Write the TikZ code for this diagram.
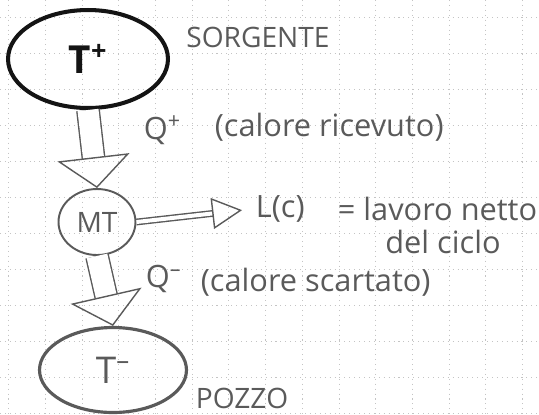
\documentclass[tikz,border=0pt]{standalone}
\usepackage{fontspec}
\setmainfont{Open Sans}
\usepackage{tikz}
\usetikzlibrary{arrows.meta,positioning,shapes.geometric}
\definecolor{PencilDark}{HTML}{141414}
\definecolor{PencilGray}{HTML}{5A5A5A}
\definecolor{PaperGrid}{HTML}{C4C4C4}
\tikzset{
  reservoir/.style={ellipse,draw=PencilDark,line width=2.3pt,inner sep=0pt,
    text=PencilDark,font=\fontsize{22}{24}\selectfont\bfseries},
  sinkres/.style={reservoir,draw=PencilGray,line width=1.8pt,text=PencilGray,
    font=\fontsize{21}{24}\selectfont},
  engine/.style={ellipse,draw=PencilGray,line width=1.1pt,inner sep=0pt,
    text=PencilGray,font=\fontsize{16}{18}\selectfont},
  handtext/.style={text=PencilGray,font=\fontsize{17.5}{20}\selectfont,inner sep=2pt},
  capstext/.style={handtext,font=\fontsize{16}{19}\selectfont},
  heatflow/.style={draw=PencilGray,line width=0.8pt,double,double distance=0.42cm,
    -{Triangle[open,line width=0.8pt,length=0.62cm,width=1.45cm]}},
  workflow/.style={draw=PencilGray,line width=0.8pt,double,double distance=0.08cm,
    -{Triangle[open,line width=0.8pt,length=0.6cm,width=0.62cm]}},
  gridline/.style={draw=PaperGrid,line width=0.4pt,dash pattern=on 0.6pt off 2.2pt}
}
\begin{document}
\begin{tikzpicture}[x=0.02cm,y=-0.02cm]
  \useasboundingbox (0,0) rectangle (539,414);
  % carta a quadretti
  \foreach \gx in {8.6,45.3,...,539} \draw[gridline] (\gx,0) -- (\gx,414);
  \foreach \gy in {17,53,...,414} \draw[gridline] (0,\gy) -- (539,\gy);

  \node[reservoir,minimum width=3.2cm,minimum height=1.96cm] (tplus) at (88,59) {T\textsuperscript{+}};
  \node[engine,minimum width=1.54cm,minimum height=1.32cm] (mt) at (97,222) {MT};
  \node[sinkres,minimum width=2.94cm,minimum height=1.7cm] (tminus) at (113,370) {T\textsuperscript{--}};

  \node[capstext] (sorgente) at (258,37) {SORGENTE};
  \node[handtext,anchor=west] (qplus) at (140,130) {Q\textsuperscript{+}};
  \node[handtext,anchor=west] (ricevuto) at (211,127) {(calore ricevuto)};
  \node[handtext,anchor=west] (lc) at (252,209) {L(c)};
  \node[handtext,anchor=west] (lavoro) at (334,209) {= lavoro netto};
  \node[handtext] (ciclo) at (443,242) {del ciclo};
  \node[handtext,anchor=west] (qminus) at (142,279) {Q\textsuperscript{--}};
  \node[handtext,anchor=west] (scartato) at (197,282) {(calore scartato)};
  \node[capstext] (pozzo) at (242,398) {POZZO};

  \draw[heatflow] (tplus.south) -- (mt.north);
  \draw[heatflow] (mt.south) -- (tminus.north);
  \draw[workflow,shorten >=0.2cm] (mt.east) -- (lc.west);
\end{tikzpicture}
\end{document}
